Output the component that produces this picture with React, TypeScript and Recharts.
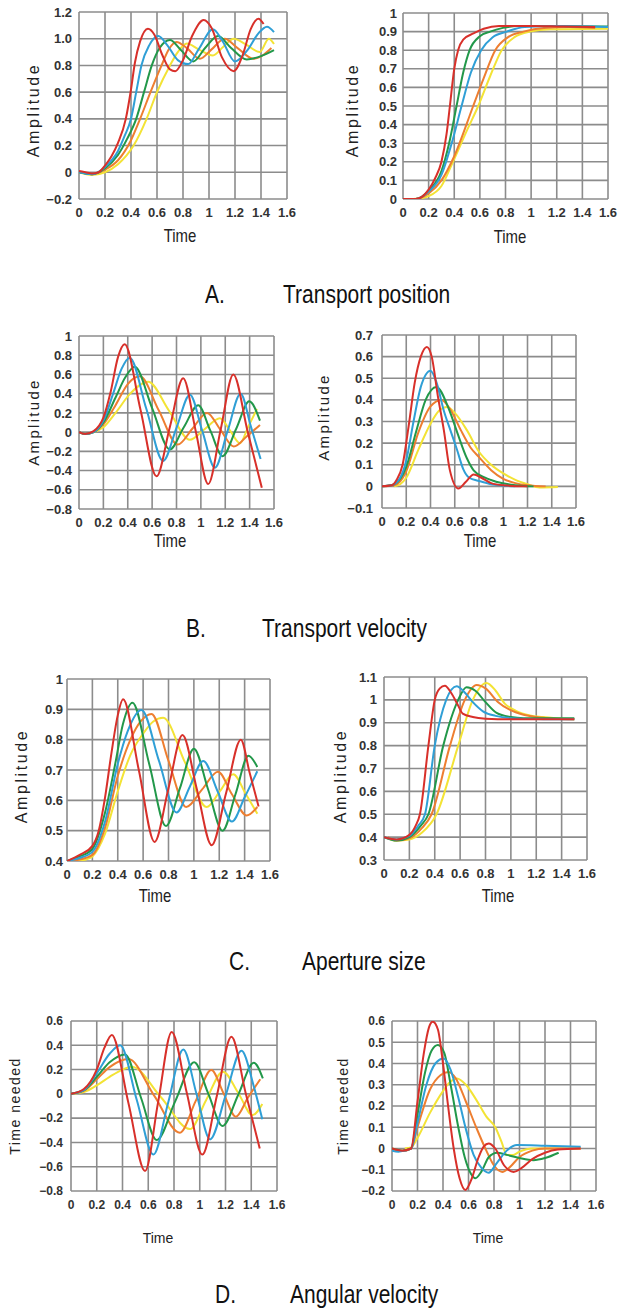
import React from 'react';
import { LineChart, Line, XAxis, YAxis, CartesianGrid, Text } from 'recharts';

type P = [number, number];

// ---------- shared axis data ----------
const timeTicks = [0, 0.2, 0.4, 0.6, 0.8, 1, 1.2, 1.4, 1.6];
const timeTickLabels = ['0', '0.2', '0.4', '0.6', '0.8', '1', '1.2', '1.4', '1.6'];

const posOscTicks = [-0.2, 0, 0.2, 0.4, 0.6, 0.8, 1.0, 1.2];
const posOscLabels = ['−0.2', '0', '0.2', '0.4', '0.6', '0.8', '1.0', '1.2'];
const posSmoothTicks = [0, 0.1, 0.2, 0.3, 0.4, 0.5, 0.6, 0.7, 0.8, 0.9, 1];
const posSmoothLabels = ['0', '0.1', '0.2', '0.3', '0.4', '0.5', '0.6', '0.7', '0.8', '0.9', '1'];
const velOscTicks = [-0.8, -0.6, -0.4, -0.2, 0, 0.2, 0.4, 0.6, 0.8, 1];
const velOscLabels = ['−0.8', '−0.6', '−0.4', '−0.2', '0', '0.2', '0.4', '0.6', '0.8', '1'];
const velPulseTicks = [-0.1, 0, 0.1, 0.2, 0.3, 0.4, 0.5, 0.6, 0.7];
const velPulseLabels = ['−0.1', '0', '0.1', '0.2', '0.3', '0.4', '0.5', '0.6', '0.7'];
const apOscTicks = [0.4, 0.5, 0.6, 0.7, 0.8, 0.9, 1];
const apOscLabels = ['0.4', '0.5', '0.6', '0.7', '0.8', '0.9', '1'];
const apSmoothTicks = [0.3, 0.4, 0.5, 0.6, 0.7, 0.8, 0.9, 1, 1.1];
const apSmoothLabels = ['0.3', '0.4', '0.5', '0.6', '0.7', '0.8', '0.9', '1', '1.1'];
const angOscTicks = [-0.8, -0.6, -0.4, -0.2, 0, 0.2, 0.4, 0.6];
const angOscLabels = ['−0.8', '−0.6', '−0.4', '−0.2', '0', '0.2', '0.4', '0.6'];
const angPulseTicks = [-0.2, -0.1, 0, 0.1, 0.2, 0.3, 0.4, 0.5, 0.6];
const angPulseLabels = ['−0.2', '−0.1', '0', '0.1', '0.2', '0.3', '0.4', '0.5', '0.6'];

// ---------- A left: transport position (oscillating) ----------
const posOscRed: P[] = [[0,0.01],[0.05,0.0],[0.1,-0.01],[0.15,0.0],[0.2,0.05],[0.25,0.12],[0.3,0.22],[0.36,0.4],[0.4,0.62],[0.43,0.82],[0.47,0.98],[0.53,1.075],[0.58,1.03],[0.64,0.88],[0.7,0.77],[0.74,0.757],[0.8,0.84],[0.87,1.02],[0.96,1.14],[1.02,1.08],[1.1,0.86],[1.19,0.757],[1.26,0.88],[1.32,1.07],[1.38,1.15],[1.42,1.11]];
const posOscBlue: P[] = [[0,0],[0.1,-0.015],[0.2,0.04],[0.3,0.16],[0.35,0.27],[0.4,0.4],[0.44,0.6],[0.48,0.8],[0.54,0.95],[0.61,1.02],[0.68,0.95],[0.76,0.84],[0.84,0.81],[0.92,0.92],[1.03,1.07],[1.1,0.99],[1.2,0.83],[1.3,0.92],[1.38,1.04],[1.446,1.09],[1.5,1.05]];
const posOscGreen: P[] = [[0,0],[0.1,-0.015],[0.2,0.03],[0.3,0.13],[0.37,0.25],[0.44,0.4],[0.5,0.6],[0.56,0.8],[0.62,0.93],[0.7,0.99],[0.78,0.92],[0.88,0.83],[0.97,0.93],[1.07,1.02],[1.17,0.93],[1.29,0.845],[1.4,0.87],[1.5,0.915]];
const posOscOrange: P[] = [[0,0],[0.1,-0.015],[0.2,0.02],[0.3,0.09],[0.4,0.24],[0.47,0.4],[0.55,0.6],[0.635,0.8],[0.69,0.92],[0.75,0.976],[0.83,0.93],[0.93,0.85],[1.02,0.92],[1.12,1.0],[1.22,0.93],[1.34,0.85],[1.42,0.88],[1.48,0.93]];
const posOscYellow: P[] = [[0,0],[0.1,-0.02],[0.2,0.0],[0.3,0.06],[0.42,0.2],[0.52,0.4],[0.6,0.6],[0.7,0.8],[0.76,0.9],[0.83,0.964],[0.92,0.92],[1.03,0.875],[1.11,0.94],[1.19,1.0],[1.28,0.96],[1.39,0.9],[1.46,1.0],[1.5,0.96]];

// ---------- A right: transport position (smooth) ----------
const posSmoothRed: P[] = [[0,0],[0.1,0.0],[0.2,0.05],[0.25,0.11],[0.3,0.2],[0.34,0.35],[0.366,0.5],[0.4,0.7],[0.43,0.8],[0.47,0.857],[0.55,0.89],[0.63,0.915],[0.75,0.93],[1.0,0.93],[1.25,0.927],[1.5,0.925]];
const posSmoothGreen: P[] = [[0,0],[0.1,0.0],[0.2,0.045],[0.3,0.15],[0.36,0.3],[0.418,0.5],[0.47,0.68],[0.52,0.8],[0.6,0.875],[0.68,0.9],[0.78,0.92],[0.9,0.93],[1.2,0.93],[1.6,0.927]];
const posSmoothBlue: P[] = [[0,0],[0.1,0.0],[0.2,0.04],[0.3,0.13],[0.38,0.3],[0.457,0.5],[0.53,0.68],[0.61,0.8],[0.7,0.87],[0.81,0.9],[0.95,0.925],[1.2,0.93],[1.6,0.925]];
const posSmoothOrange: P[] = [[0,0],[0.1,0.0],[0.2,0.03],[0.3,0.1],[0.4,0.23],[0.548,0.5],[0.63,0.65],[0.72,0.8],[0.82,0.87],[0.94,0.9],[1.1,0.92],[1.3,0.925],[1.5,0.92]];
const posSmoothYellow: P[] = [[0.08,0],[0.15,0.005],[0.2,0.015],[0.3,0.07],[0.39,0.2],[0.5,0.37],[0.587,0.5],[0.68,0.66],[0.77,0.8],[0.87,0.87],[0.99,0.9],[1.15,0.912],[1.6,0.915]];

// ---------- B left: transport velocity (oscillating) ----------
const velOscRed: P[] = [[0,0],[0.05,-0.02],[0.12,0.01],[0.2,0.15],[0.26,0.42],[0.32,0.78],[0.375,0.913],[0.505,0.23],[0.636,-0.46],[0.745,0.05],[0.855,0.56],[0.958,0.01],[1.06,-0.54],[1.163,0.03],[1.266,0.6],[1.383,0.01],[1.5,-0.58]];
const velOscBlue: P[] = [[0,0],[0.05,-0.02],[0.12,0.0],[0.2,0.12],[0.28,0.4],[0.35,0.66],[0.416,0.775],[0.553,0.24],[0.69,-0.3],[0.8,0.045],[0.91,0.39],[1.012,0.01],[1.115,-0.37],[1.22,0.015],[1.326,0.4],[1.41,0.06],[1.49,-0.28]];
const velOscGreen: P[] = [[0,0],[0.05,-0.02],[0.12,0.0],[0.2,0.1],[0.3,0.36],[0.38,0.57],[0.457,0.68],[0.6,0.25],[0.745,-0.18],[0.86,0.05],[0.978,0.28],[1.078,0.015],[1.178,-0.25],[1.29,0.035],[1.397,0.32],[1.485,0.12]];
const velOscOrange: P[] = [[0,0],[0.05,-0.02],[0.12,0.0],[0.2,0.08],[0.3,0.28],[0.4,0.5],[0.5,0.58],[0.655,0.225],[0.81,-0.13],[0.93,0.035],[1.05,0.2],[1.16,0.025],[1.27,-0.15],[1.38,-0.04],[1.485,0.075]];
const velOscYellow: P[] = [[0,0],[0.05,-0.02],[0.12,0.0],[0.2,0.05],[0.3,0.2],[0.42,0.4],[0.567,0.525],[0.74,0.22],[0.91,-0.08],[1.03,0.03],[1.156,0.145],[1.24,0.015],[1.32,-0.115],[1.39,0.06],[1.46,0.24]];

// ---------- B right: transport velocity (pulse) ----------
const velPulseRed: P[] = [[0,0],[0.08,0.005],[0.12,0.03],[0.17,0.1],[0.22,0.28],[0.27,0.48],[0.32,0.6],[0.37,0.645],[0.41,0.6],[0.46,0.42],[0.51,0.26],[0.56,0.074],[0.63,-0.01],[0.69,0.02],[0.756,0.055],[0.82,0.04],[0.9,0.015],[1.0,0.005],[1.2,0.0]];
const velPulseBlue: P[] = [[0,0],[0.08,0.005],[0.15,0.04],[0.2,0.12],[0.26,0.3],[0.32,0.46],[0.4,0.535],[0.45,0.48],[0.51,0.35],[0.57,0.25],[0.62,0.167],[0.67,0.08],[0.72,0.04],[0.8,0.025],[0.9,0.01],[1.1,0.0]];
const velPulseGreen: P[] = [[0,0],[0.1,0.01],[0.2,0.09],[0.28,0.25],[0.36,0.4],[0.448,0.46],[0.55,0.36],[0.62,0.25],[0.7,0.13],[0.756,0.074],[0.85,0.04],[0.95,0.02],[1.1,0.005],[1.25,0.0]];
const velPulseOrange: P[] = [[0,0],[0.1,0.005],[0.2,0.07],[0.3,0.25],[0.4,0.37],[0.49,0.4],[0.57,0.35],[0.65,0.26],[0.73,0.18],[0.8,0.135],[0.9,0.075],[1.0,0.035],[1.1,0.015],[1.2,0.005],[1.35,0.0]];
const velPulseYellow: P[] = [[0.1,0],[0.15,0.01],[0.2,0.04],[0.3,0.17],[0.4,0.29],[0.47,0.35],[0.536,0.367],[0.6,0.34],[0.7,0.26],[0.8,0.16],[0.9,0.1],[1.0,0.06],[1.1,0.03],[1.2,0.01],[1.3,-0.005],[1.45,-0.003]];

// ---------- C left: aperture size (oscillating) ----------
const apOscRed: P[] = [[0,0.4],[0.1,0.42],[0.2,0.45],[0.25,0.5],[0.3,0.61],[0.35,0.755],[0.4,0.88],[0.442,0.933],[0.566,0.7],[0.69,0.463],[0.8,0.64],[0.91,0.815],[1.025,0.634],[1.14,0.452],[1.255,0.626],[1.37,0.8],[1.44,0.69],[1.51,0.58]];
const apOscGreen: P[] = [[0,0.4],[0.1,0.415],[0.2,0.44],[0.3,0.56],[0.38,0.72],[0.44,0.85],[0.516,0.922],[0.648,0.72],[0.78,0.515],[0.89,0.64],[1.0,0.77],[1.113,0.635],[1.226,0.5],[1.328,0.62],[1.43,0.747],[1.5,0.71]];
const apOscBlue: P[] = [[0,0.4],[0.1,0.41],[0.2,0.43],[0.3,0.53],[0.4,0.72],[0.48,0.83],[0.587,0.898],[0.725,0.73],[0.863,0.56],[0.968,0.645],[1.074,0.73],[1.187,0.63],[1.3,0.53],[1.4,0.61],[1.5,0.696]];
const apOscOrange: P[] = [[0.03,0.4],[0.1,0.405],[0.2,0.42],[0.3,0.51],[0.4,0.68],[0.5,0.8],[0.58,0.86],[0.666,0.885],[0.8,0.73],[0.94,0.578],[1.065,0.636],[1.19,0.694],[1.3,0.62],[1.416,0.55],[1.5,0.578]];
const apOscYellow: P[] = [[0.08,0.4],[0.15,0.405],[0.2,0.415],[0.3,0.49],[0.4,0.63],[0.5,0.75],[0.6,0.82],[0.68,0.86],[0.758,0.872],[0.93,0.725],[1.1,0.578],[1.205,0.63],[1.31,0.686],[1.41,0.62],[1.5,0.556]];

// ---------- C right: aperture size (smooth) ----------
const apSmoothRed: P[] = [[0,0.4],[0.1,0.39],[0.2,0.41],[0.25,0.45],[0.283,0.5],[0.35,0.8],[0.4,1.0],[0.44,1.05],[0.48,1.062],[0.53,1.03],[0.58,0.98],[0.62,0.94],[0.7,0.925],[0.8,0.918],[1.0,0.915],[1.5,0.915]];
const apSmoothBlue: P[] = [[0,0.4],[0.1,0.39],[0.2,0.405],[0.27,0.45],[0.323,0.5],[0.4,0.8],[0.49,1.0],[0.572,1.06],[0.64,1.03],[0.7,0.99],[0.78,0.95],[0.88,0.93],[1.0,0.92],[1.2,0.916],[1.5,0.915]];
const apSmoothGreen: P[] = [[0,0.4],[0.1,0.385],[0.2,0.4],[0.29,0.45],[0.35,0.5],[0.467,0.8],[0.585,1.0],[0.65,1.055],[0.72,1.04],[0.8,0.99],[0.887,0.943],[1.0,0.925],[1.1,0.92],[1.5,0.92]];
const apSmoothOrange: P[] = [[0.03,0.4],[0.1,0.385],[0.2,0.395],[0.3,0.44],[0.375,0.5],[0.52,0.8],[0.637,1.0],[0.73,1.065],[0.8,1.05],[0.9,0.99],[0.99,0.957],[1.1,0.935],[1.2,0.925],[1.35,0.918],[1.5,0.915]];
const apSmoothYellow: P[] = [[0.05,0.39],[0.1,0.385],[0.2,0.39],[0.3,0.42],[0.414,0.5],[0.585,0.8],[0.7,1.0],[0.808,1.074],[0.88,1.04],[0.95,0.985],[1.04,0.952],[1.15,0.932],[1.25,0.925],[1.5,0.915]];

// ---------- D left: angular velocity (oscillating) ----------
const angOscRed: P[] = [[0,0],[0.1,0.04],[0.2,0.2],[0.26,0.38],[0.317,0.485],[0.446,-0.075],[0.575,-0.635],[0.678,-0.06],[0.782,0.51],[0.9,0.005],[1.02,-0.5],[1.133,-0.015],[1.246,0.47],[1.356,0.01],[1.466,-0.45]];
const angOscBlue: P[] = [[0,0],[0.1,0.03],[0.2,0.17],[0.3,0.33],[0.382,0.4],[0.511,-0.05],[0.64,-0.5],[0.756,-0.067],[0.872,0.366],[0.976,-0.005],[1.08,-0.375],[1.202,-0.01],[1.324,0.355],[1.42,0.06],[1.486,-0.21]];
const angOscGreen: P[] = [[0,0],[0.1,0.03],[0.2,0.14],[0.3,0.26],[0.42,0.325],[0.543,-0.03],[0.666,-0.38],[0.81,-0.06],[0.957,0.26],[1.067,0.0],[1.177,-0.265],[1.3,-0.005],[1.42,0.256],[1.49,0.128]];
const angOscOrange: P[] = [[0,0],[0.1,0.025],[0.2,0.12],[0.3,0.22],[0.446,0.287],[0.646,-0.015],[0.846,-0.32],[0.968,-0.06],[1.09,0.196],[1.185,0.004],[1.28,-0.188],[1.375,-0.03],[1.47,0.12]];
const angOscYellow: P[] = [[0,0],[0.1,0.015],[0.2,0.07],[0.3,0.14],[0.4,0.2],[0.472,0.224],[0.7,-0.03],[0.924,-0.29],[1.05,-0.05],[1.18,0.183],[1.3,0.005],[1.41,-0.175],[1.486,-0.084]];

// ---------- D right: angular velocity (pulse) ----------
const angPulseRed: P[] = [[0,0],[0.08,-0.01],[0.15,0.0],[0.2,0.22],[0.25,0.45],[0.29,0.57],[0.32,0.597],[0.36,0.56],[0.4,0.4],[0.44,0.2],[0.484,0.0],[0.53,-0.14],[0.575,-0.195],[0.62,-0.15],[0.68,-0.04],[0.72,0.01],[0.758,0.024],[0.81,0.0],[0.88,-0.08],[0.954,-0.11],[1.02,-0.09],[1.1,-0.05],[1.2,-0.02],[1.3,-0.005],[1.48,0.0]];
const angPulseGreen: P[] = [[0,0],[0.08,-0.01],[0.15,0.0],[0.2,0.16],[0.26,0.36],[0.31,0.46],[0.36,0.487],[0.41,0.45],[0.46,0.3],[0.52,0.1],[0.57,-0.04],[0.62,-0.12],[0.654,-0.14],[0.7,-0.11],[0.76,-0.04],[0.824,-0.02],[0.9,-0.03],[1.0,-0.045],[1.11,-0.055],[1.2,-0.045],[1.307,-0.02]];
const angPulseBlue: P[] = [[0,-0.01],[0.05,-0.015],[0.1,-0.01],[0.15,0.0],[0.2,0.12],[0.27,0.3],[0.34,0.4],[0.405,0.424],[0.46,0.37],[0.52,0.24],[0.58,0.09],[0.64,-0.03],[0.7,-0.09],[0.758,-0.114],[0.82,-0.07],[0.9,-0.01],[0.98,0.016],[1.2,0.013],[1.48,0.008]];
const angPulseOrange: P[] = [[0,0],[0.08,-0.01],[0.15,0.0],[0.2,0.1],[0.3,0.28],[0.38,0.345],[0.444,0.36],[0.5,0.33],[0.58,0.22],[0.66,0.1],[0.74,-0.01],[0.8,-0.08],[0.865,-0.11],[0.92,-0.09],[1.0,-0.04],[1.1,-0.01],[1.2,0.0],[1.48,0.0]];
const angPulseYellow: P[] = [[0.1,0],[0.15,0.005],[0.2,0.05],[0.3,0.17],[0.4,0.27],[0.45,0.31],[0.51,0.33],[0.58,0.3],[0.66,0.23],[0.74,0.15],[0.81,0.1],[0.86,0.03],[0.9,-0.03],[0.95,-0.03],[1.0,-0.015],[1.1,0.0],[1.48,0.0]];

// ---------- styling ----------
const RED = '#d8302a';
const BLUE = '#2f9fd6';
const GREEN = '#22984a';
const ORANGE = '#ee7e30';
const YELLOW = '#f3e335';
const GRID = '#8c8c8c';
const SANS = "'Liberation Sans', Arial, Helvetica, sans-serif";

type Series = { data: P[]; color: string };

const toPts = (arr: P[]) => arr.map(([x, y]) => ({ x, y }));

const labelFor = (ticks: number[], labels: string[]) => (v: number) => {
  const i = ticks.findIndex((t) => Math.abs(t - v) < 1e-6);
  return i >= 0 ? labels[i] : String(v);
};

type PanelProps = {
  left: number; top: number; width: number; height: number;
  plotTop: number; plotRight: number; yAxisWidth: number; xAxisHeight: number;
  yDomain: [number, number]; yTicks: number[]; yLabels: string[];
  series: Series[]; fontSize: number; yMargin: number;
};

const makeTick = (fmt: (v: number) => string, fontSize: number) => (props: any) => (
  <Text
    x={props.x} y={props.y} textAnchor={props.textAnchor} verticalAnchor={props.verticalAnchor}
    fontSize={fontSize} fontWeight="bold" fill="#333" fontFamily={SANS}
  >
    {fmt(props.payload.value)}
  </Text>
);

function Panel(p: PanelProps) {
  const xFmt = labelFor(timeTicks, timeTickLabels);
  const yFmt = labelFor(p.yTicks, p.yLabels);
  return (
    <div style={{ position: 'absolute', left: p.left, top: p.top }}>
      <LineChart width={p.width} height={p.height} margin={{ top: p.plotTop, right: p.plotRight, bottom: 0, left: 0 }}>
        <CartesianGrid stroke={GRID} strokeWidth={1.6} fill="none" />
        <XAxis
          type="number" dataKey="x" domain={[0, 1.6]} ticks={timeTicks} interval={0}
          axisLine={false} tickLine={false} tickSize={0} tickMargin={9} height={p.xAxisHeight}
          tick={makeTick(xFmt, p.fontSize)} allowDataOverflow
        />
        <YAxis
          type="number" domain={p.yDomain} ticks={p.yTicks} interval={0}
          axisLine={false} tickLine={false} tickSize={0} tickMargin={p.yMargin} width={p.yAxisWidth}
          tick={makeTick(yFmt, p.fontSize)} allowDataOverflow
        />
        {p.series.map((s, i) => (
          <Line key={i} data={toPts(s.data)} dataKey="y" type="monotone" stroke={s.color}
            strokeWidth={2} dot={false} activeDot={false} isAnimationActive={false} />
        ))}
      </LineChart>
    </div>
  );
}

const mk = (y: P[], o: P[], g: P[], b: P[], r: P[]): Series[] => [
  { data: y, color: YELLOW }, { data: o, color: ORANGE }, { data: g, color: GREEN },
  { data: b, color: BLUE }, { data: r, color: RED },
];

export default function App() {
  const yLabel = (cx: number, cy: number, text: string, size: number, spacing: number) => (
    <text transform={`translate(${cx},${cy}) rotate(-90)`} textAnchor="middle" dominantBaseline="central"
      fontSize={size} letterSpacing={spacing} fill="#222" fontFamily={SANS}>{text}</text>
  );
  const timeLabel = (cx: number, by: number, narrow: boolean) => (
    <text transform={`translate(${cx},${by}) scale(${narrow ? 0.83 : 1},1)`} textAnchor="middle"
      fontSize={narrow ? 18 : 14} fill="#222" fontFamily={SANS}>Time</text>
  );
  const title = (lx: number, tx: number, by: number, letter: string, text: string) => (
    <g>
      <text transform={`translate(${lx},${by}) scale(0.84,1)`} fontSize={25} fill="#111" fontFamily={SANS}>{letter}</text>
      <text transform={`translate(${tx},${by}) scale(0.84,1)`} fontSize={25} fill="#111" fontFamily={SANS}>{text}</text>
    </g>
  );

  return (
    <div style={{ position: 'absolute', left: 0, top: 0, width: 625, height: 1308, background: '#fff', overflow: 'hidden' }}>
      <Panel left={0} top={0} width={305} height={250} plotTop={12} plotRight={18} yAxisWidth={79} xAxisHeight={51}
        yDomain={[-0.2, 1.2]} yTicks={posOscTicks} yLabels={posOscLabels} fontSize={13} yMargin={7}
        series={mk(posOscYellow, posOscOrange, posOscGreen, posOscBlue, posOscRed)} />
      <Panel left={310} top={0} width={315} height={250} plotTop={13} plotRight={17} yAxisWidth={93} xAxisHeight={51}
        yDomain={[0, 1]} yTicks={posSmoothTicks} yLabels={posSmoothLabels} fontSize={13} yMargin={6}
        series={mk(posSmoothYellow, posSmoothOrange, posSmoothGreen, posSmoothBlue, posSmoothRed)} />
      <Panel left={0} top={300} width={300} height={260} plotTop={36} plotRight={26} yAxisWidth={79} xAxisHeight={51}
        yDomain={[-0.8, 1]} yTicks={velOscTicks} yLabels={velOscLabels} fontSize={13} yMargin={7}
        series={mk(velOscYellow, velOscOrange, velOscGreen, velOscBlue, velOscRed)} />
      <Panel left={310} top={300} width={315} height={260} plotTop={35} plotRight={49} yAxisWidth={72} xAxisHeight={52}
        yDomain={[-0.1, 0.7]} yTicks={velPulseTicks} yLabels={velPulseLabels} fontSize={13} yMargin={9}
        series={mk(velPulseYellow, velPulseOrange, velPulseGreen, velPulseBlue, velPulseRed)} />
      <Panel left={0} top={640} width={300} height={270} plotTop={39} plotRight={30} yAxisWidth={67} xAxisHeight={49}
        yDomain={[0.4, 1]} yTicks={apOscTicks} yLabels={apOscLabels} fontSize={13} yMargin={4}
        series={mk(apOscYellow, apOscOrange, apOscGreen, apOscBlue, apOscRed)} />
      <Panel left={310} top={640} width={315} height={270} plotTop={37} plotRight={38} yAxisWidth={74} xAxisHeight={50}
        yDomain={[0.3, 1.1]} yTicks={apSmoothTicks} yLabels={apSmoothLabels} fontSize={13} yMargin={7}
        series={mk(apSmoothYellow, apSmoothOrange, apSmoothGreen, apSmoothBlue, apSmoothRed)} />
      <Panel left={0} top={980} width={300} height={240} plotTop={41} plotRight={23} yAxisWidth={71} xAxisHeight={29}
        yDomain={[-0.8, 0.6]} yTicks={angOscTicks} yLabels={angOscLabels} fontSize={12} yMargin={8}
        series={mk(angOscYellow, angOscOrange, angOscGreen, angOscBlue, angOscRed)} />
      <Panel left={310} top={980} width={315} height={240} plotTop={41} plotRight={29} yAxisWidth={82} xAxisHeight={29}
        yDomain={[-0.2, 0.6]} yTicks={angPulseTicks} yLabels={angPulseLabels} fontSize={12} yMargin={7}
        series={mk(angPulseYellow, angPulseOrange, angPulseGreen, angPulseBlue, angPulseRed)} />

      <svg width={625} height={1308} style={{ position: 'absolute', left: 0, top: 0, pointerEvents: 'none' }}>
        {yLabel(33, 110, 'Amplitude', 16, 2.6)}
        {yLabel(352, 110, 'Amplitude', 16, 2.6)}
        {yLabel(33, 422, 'Amplitude', 15, 2.3)}
        {yLabel(323, 417, 'Amplitude', 15, 2.3)}
        {yLabel(21, 776, 'Amplitude', 16, 2.6)}
        {yLabel(340, 776, 'Amplitude', 16, 2.6)}
        {yLabel(15, 1106, 'Time needed', 14, 1.5)}
        {yLabel(343, 1106, 'Time needed', 14, 1.5)}
        {timeLabel(180, 242, true)}
        {timeLabel(510, 243, true)}
        {timeLabel(170, 547, true)}
        {timeLabel(480, 547, true)}
        {timeLabel(155, 902, true)}
        {timeLabel(498, 902, true)}
        {timeLabel(158, 1243, false)}
        {timeLabel(488, 1243, false)}
        {title(205, 283, 303, 'A.', 'Transport position')}
        {title(186, 262, 637, 'B.', 'Transport velocity')}
        {title(229, 302, 970, 'C.', 'Aperture size')}
        {title(215, 290, 1303, 'D.', 'Angular velocity')}
      </svg>
    </div>
  );
}
